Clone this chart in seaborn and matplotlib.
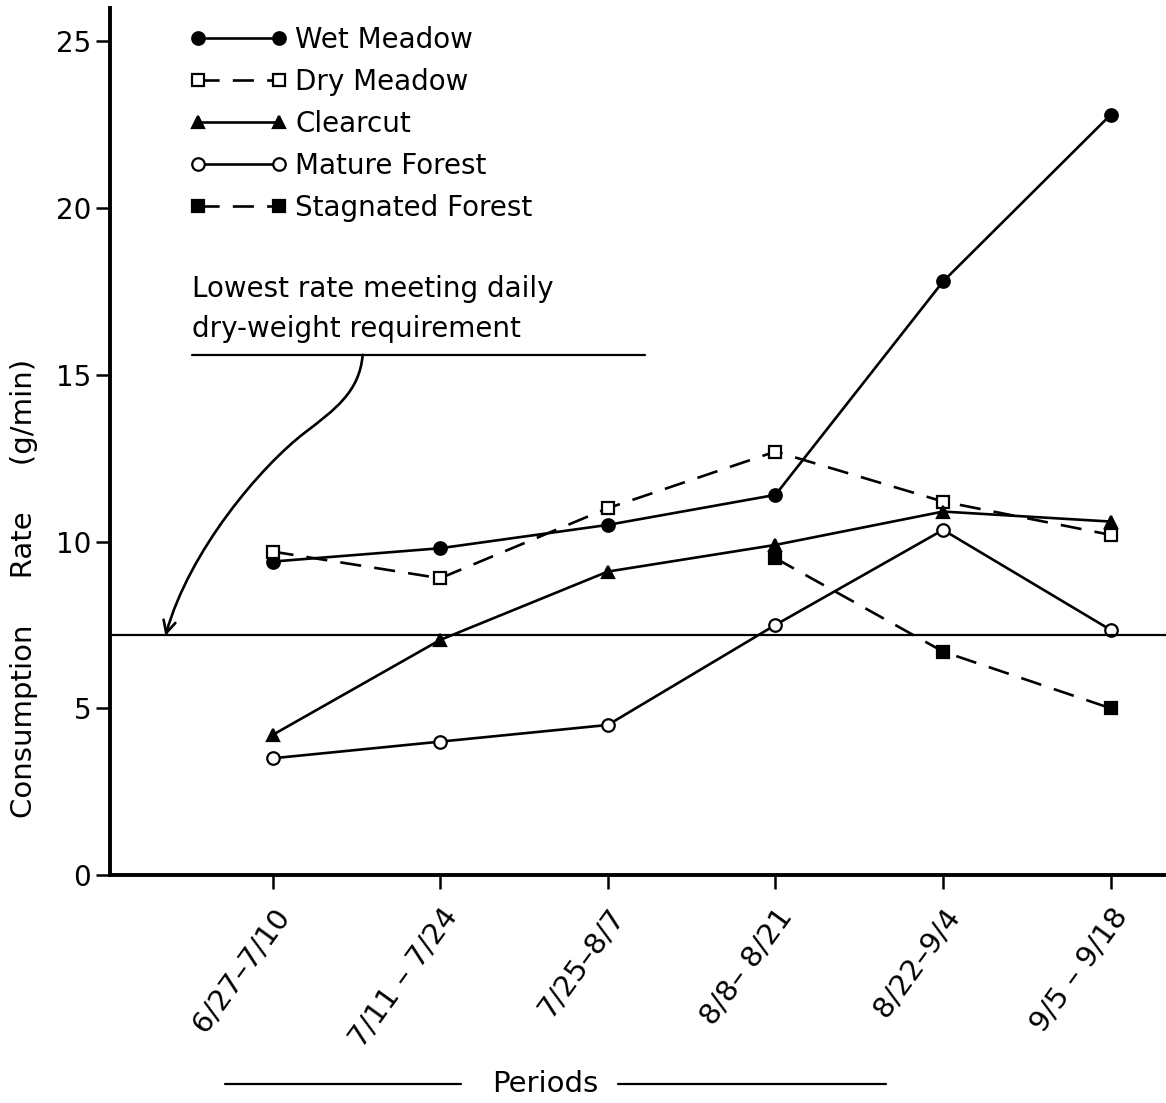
import numpy as np
import pandas as pd
import matplotlib
matplotlib.use("Agg")
import matplotlib.pyplot as plt
import seaborn as sns
from matplotlib.lines import Line2D
from matplotlib.patches import FancyArrowPatch
from matplotlib.path import Path

# data
periods = ["6/27\u20137/10", "7/11 \u2013 7/24", "7/25\u20138/7",
           "8/8\u2013 8/21", "8/22\u20139/4", "9/5 \u2013 9/18"]
wet_meadow = [9.4, 9.8, 10.5, 11.4, 17.8, 22.8]
dry_meadow = [9.7, 8.9, 11.0, 12.7, 11.2, 10.2]
clearcut = [4.2, 7.05, 9.1, 9.9, 10.9, 10.6]
mature_forest = [3.5, 4.0, 4.5, 7.5, 10.35, 7.35]
stagnated_forest = [np.nan, np.nan, np.nan, 9.5, 6.7, 5.0]
threshold = 7.2

series = {
    "Wet Meadow": wet_meadow,
    "Dry Meadow": dry_meadow,
    "Clearcut": clearcut,
    "Mature Forest": mature_forest,
    "Stagnated Forest": stagnated_forest,
}
styles = {
    "Wet Meadow": dict(marker="o", mfc="black", ls="-"),
    "Dry Meadow": dict(marker="s", mfc="white", ls=(0, (8, 5))),
    "Clearcut": dict(marker="^", mfc="black", ls="-"),
    "Mature Forest": dict(marker="o", mfc="white", ls="-"),
    "Stagnated Forest": dict(marker="s", mfc="black", ls=(0, (8, 5))),
}

rows = []
for name, vals in series.items():
    for i, v in enumerate(vals):
        rows.append({"series": name, "idx": i, "rate": v})
df = pd.DataFrame(rows).dropna()

sns.set_style("ticks")
plt.rcParams["font.family"] = ["DejaVu Sans"]
plt.rcParams.update({"text.color": "black", "axes.labelcolor": "black",
                     "xtick.color": "black", "ytick.color": "black",
                     "axes.edgecolor": "black"})

fig = plt.figure(figsize=(11.66, 11.03), dpi=100)
ax = fig.add_axes([0.0943, 0.2067, 0.9057, 0.786])

handles = []
for name in series:
    st = styles[name]
    sub = df[df["series"] == name]
    sns.lineplot(data=sub, x="idx", y="rate", ax=ax, color="black",
                 marker=st["marker"], markersize=9, markerfacecolor=st["mfc"],
                 markeredgecolor="black", markeredgewidth=1.6,
                 linewidth=1.9, linestyle=st["ls"], legend=False)
    handles.append(Line2D([], [], color="black", marker=st["marker"],
                          markersize=9, markerfacecolor=st["mfc"],
                          markeredgecolor="black", markeredgewidth=1.6,
                          linewidth=1.9, linestyle=st["ls"], label=name))

ax.axhline(threshold, color="black", lw=1.6)

ax.set_xlim(-0.97, 5.33)
ax.set_ylim(0, 26)
ax.set_yticks([0, 5, 10, 15, 20, 25])
ax.set_xticks(range(len(periods)))
ax.set_xticklabels(periods, rotation=54, ha="right", rotation_mode="anchor",
                   fontsize=21)
ax.tick_params(axis="y", labelsize=20)
ax.tick_params(axis="both", length=10, width=1.8, direction="out")
ax.tick_params(axis="x", pad=10)
for s in ["top", "right"]:
    ax.spines[s].set_visible(False)
ax.spines["left"].set_linewidth(2.8)
ax.spines["bottom"].set_linewidth(2.8)
ax.set_xlabel("")
ax.set_ylabel("Consumption     Rate     (g/min)", fontsize=21)
ax.yaxis.set_label_coords(-0.068, 0.33)

ax.legend(handles=handles, loc="upper left", bbox_to_anchor=(0.052, 1.008),
          frameon=False, fontsize=20, handlelength=3.5, numpoints=2,
          labelspacing=0.5, handletextpad=0.3)

# annotation for the threshold line
ax.text(-0.48, 15.95, "Lowest rate meeting daily\ndry-weight requirement",
        fontsize=20, ha="left", va="bottom", linespacing=1.55)
ax.plot([-0.48, 2.22], [15.6, 15.6], color="black", lw=1.6)


def px(x, y):
    return ((x - 273) / 167.4, (875 - y) / 33.33)


verts = [px(363, 355), px(360, 392), px(335, 410), px(305, 433),
         px(262, 466), px(190, 550), px(166, 636)]
codes = [Path.MOVETO, Path.CURVE4, Path.CURVE4, Path.CURVE4,
         Path.CURVE4, Path.CURVE4, Path.CURVE4]
arrow = FancyArrowPatch(path=Path(verts, codes), arrowstyle="->",
                        mutation_scale=22, color="black", lw=1.9,
                        transform=ax.transData)
ax.add_patch(arrow)

# x axis title with rules on both sides
fig.text(0.468, 0.0175, "Periods", fontsize=21, ha="center", va="center")
fig.add_artist(Line2D([0.193, 0.395], [0.0172, 0.0172], color="black", lw=1.6))
fig.add_artist(Line2D([0.53, 0.76], [0.0172, 0.0172], color="black", lw=1.6))

fig.savefig("out.png", dpi=100)
